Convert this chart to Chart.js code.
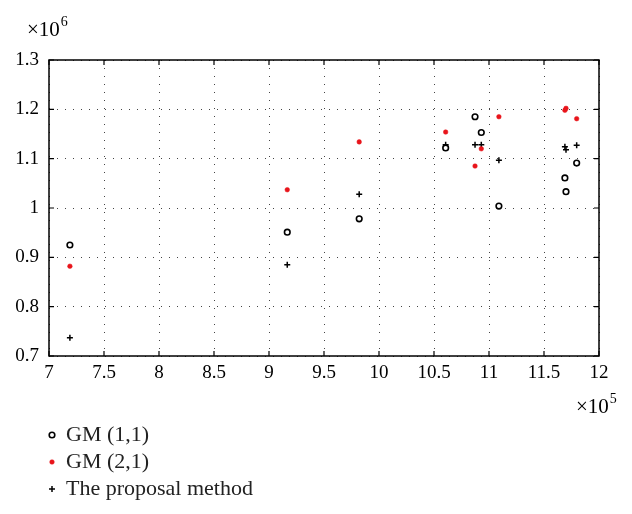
<!DOCTYPE html>
<html>
<head>
<meta charset="utf-8">
<script src="https://cdn.jsdelivr.net/npm/chart.js@4/dist/chart.umd.min.js"></script>
<style>
  html, body { margin: 0; padding: 0; background: #fff; }
  #wrap { width: 632px; height: 514px; position: relative; }
</style>
</head>
<body>
<div id="wrap"><canvas id="scatterChart" width="632" height="514"></canvas></div>
<script>
// x values (raw units, axis shows x10^5)
const xValues = [719000, 916600, 982000, 1060600, 1087300, 1093000, 1109000, 1169000, 1170000, 1179700];
// y values per method (raw units, axis shows x10^6)
const gm11 = [925000, 951000, 978000, 1121700, 1185000, 1153000, 1004000, 1061000, 1033000, 1091000];
const gm21 = [882000, 1037000, 1134000, 1154000, 1085000, 1120000, 1185000, 1198000, 1202000, 1181000];
const proposal = [737000, 885000, 1028000, 1128000, 1128000, 1128000, 1097000, 1124000, 1118000, 1127000];
const seriesLabels = ['GM (1,1)', 'GM (2,1)', 'The proposal method'];
const xTicks = [7, 7.5, 8, 8.5, 9, 9.5, 10, 10.5, 11, 11.5, 12];
const yTicks = [0.7, 0.8, 0.9, 1, 1.1, 1.2, 1.3];

const FONT = "'Liberation Serif', 'DejaVu Serif', serif";

function toPoints(ys) {
    return xValues.map((x, i) => ({ x: x, y: ys[i] }));
}

// draws "x10" with a superscript exponent
function drawExponent(ctx, exp, x, baseline) {
    ctx.font = '21px ' + FONT;
    ctx.fillText('\u00d710', x, baseline);
    const w = ctx.measureText('\u00d710').width;
    ctx.font = '14px ' + FONT;
    ctx.fillText(exp, x + w + 1, baseline - 10);
}

// Frame, inward ticks, exponent labels and the legend
const decorPlugin = {
    id: 'decor',
    afterDraw(chart) {
        const ctx = chart.ctx;
        const a = chart.chartArea;
        const xs = chart.scales.x, ys = chart.scales.y;
        ctx.save();
        ctx.strokeStyle = '#000';
        ctx.lineWidth = 1.5;
        ctx.strokeRect(a.left, a.top, a.right - a.left, a.bottom - a.top);

        ctx.lineWidth = 1.2;
        const t = 5;
        ctx.beginPath();
        xTicks.forEach(v => {
            const px = xs.getPixelForValue(v * 1e5);
            ctx.moveTo(px, a.bottom); ctx.lineTo(px, a.bottom - t);
            ctx.moveTo(px, a.top); ctx.lineTo(px, a.top + t);
        });
        yTicks.forEach(v => {
            const py = ys.getPixelForValue(v * 1e6);
            ctx.moveTo(a.left, py); ctx.lineTo(a.left + t, py);
            ctx.moveTo(a.right, py); ctx.lineTo(a.right - t, py);
        });
        ctx.stroke();

        // exponent labels
        ctx.fillStyle = '#000';
        ctx.textBaseline = 'alphabetic';
        ctx.textAlign = 'left';
        drawExponent(ctx, '6', 27, 36);
        drawExponent(ctx, '5', 576, 413);

        // legend
        const rows = [435, 462, 489];
        chart.data.datasets.forEach((ds, i) => {
            const y = rows[i];
            ctx.fillStyle = ds.backgroundColor;
            ctx.strokeStyle = ds.borderColor;
            ctx.lineWidth = ds.borderWidth;
            Chart.helpers.drawPoint(ctx, {
                pointStyle: ds.pointStyle,
                radius: ds.pointRadius,
                rotation: 0,
                borderWidth: ds.borderWidth
            }, 52, y);
            ctx.fillStyle = '#222';
            ctx.font = '22px ' + FONT;
            ctx.textBaseline = 'middle';
            ctx.fillText(ds.label, 66, y);
        });
        ctx.restore();
    }
};

new Chart(document.getElementById('scatterChart'), {
    type: 'scatter',
    data: {
        datasets: [
            {
                label: seriesLabels[0],
                data: toPoints(gm11),
                pointStyle: 'circle',
                pointRadius: 2.8,
                borderColor: '#000',
                backgroundColor: '#fff',
                borderWidth: 1.6
            },
            {
                label: seriesLabels[1],
                data: toPoints(gm21),
                pointStyle: 'circle',
                pointRadius: 2.3,
                borderColor: '#e8141b',
                backgroundColor: '#e8141b',
                borderWidth: 0.5
            },
            {
                label: seriesLabels[2],
                data: toPoints(proposal),
                pointStyle: 'cross',
                pointRadius: 3,
                borderColor: '#000',
                backgroundColor: '#000',
                borderWidth: 1.5
            }
        ]
    },
    options: {
        responsive: false,
        animation: false,
        events: [],
        layout: { padding: { left: 0, right: 33, top: 60, bottom: 128 } },
        plugins: {
            legend: { display: false },
            tooltip: { enabled: false }
        },
        scales: {
            x: {
                type: 'linear',
                min: 700000,
                max: 1200000,
                afterBuildTicks: function(scale) {
                    scale.ticks = xTicks.map(v => ({ value: v * 1e5 }));
                },
                afterFit: function(scale) { scale.height = 30; },
                border: { display: false, dash: [1, 7] },
                grid: { color: '#444', lineWidth: 1, drawTicks: false },
                ticks: {
                    padding: 6,
                    color: '#000',
                    font: { family: FONT, size: 19 },
                    callback: function(value) { return String(value / 1e5); }
                }
            },
            y: {
                type: 'linear',
                min: 700000,
                max: 1300000,
                afterBuildTicks: function(scale) {
                    scale.ticks = yTicks.map(v => ({ value: v * 1e6 }));
                },
                afterFit: function(scale) { scale.width = 49; },
                border: { display: false, dash: [1, 7] },
                grid: { color: '#444', lineWidth: 1, drawTicks: false },
                ticks: {
                    padding: 10,
                    color: '#000',
                    font: { family: FONT, size: 19 },
                    callback: function(value) { return String(Math.round(value / 1e5) / 10); }
                }
            }
        }
    },
    plugins: [decorPlugin]
});
</script>
</body>
</html>
